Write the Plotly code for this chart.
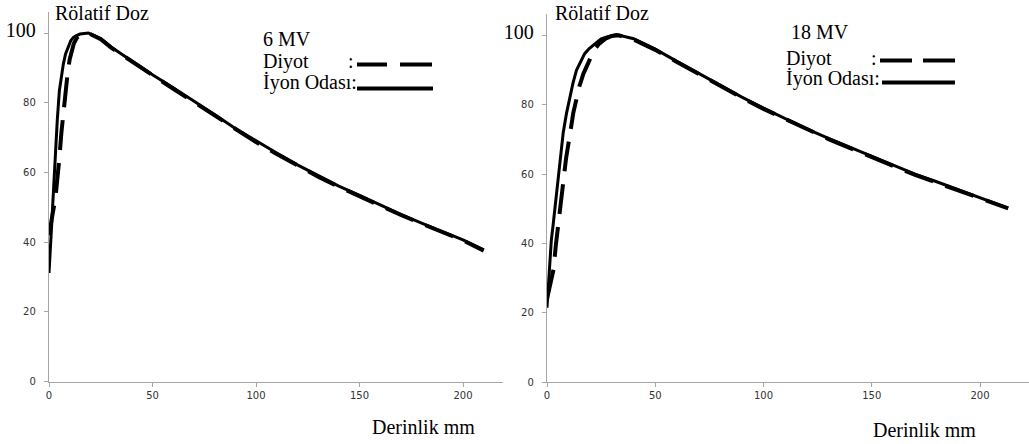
import plotly.graph_objects as go

W, H = 1029, 444

# ---------------- data ----------------
# 6 MV, ion chamber (solid)
depth_6_ion = [0, 0.5, 1.3, 2, 2.9, 4, 5, 6, 6.9, 8, 9.3, 10.5, 11.7, 13, 15, 17, 19,
               25, 30, 40, 50, 60, 70, 80, 90, 100, 110, 120, 130, 140, 150, 160, 170,
               180, 190, 200, 210]
dose_6_ion = [31.2, 38, 45, 53, 64.3, 75, 83.4, 88, 91, 94, 96.3, 97.8, 98.7, 99.2, 99.7, 99.9, 100,
              98.4, 96, 92, 88, 84.3, 80.5, 76.6, 72.6, 69, 65.6, 62.2, 59.1, 56.1, 53.4, 50.6, 48,
              45.5, 43, 40.7, 37.8]
# 6 MV, diode (dashed)
depth_6_dio = [0, 1, 2, 3, 4, 5, 6, 7, 8, 9, 10, 11, 12, 13.5, 15.8, 19,
               25, 30, 40, 50, 60, 70, 80, 90, 100, 110, 120, 130, 140, 150, 160, 170,
               180, 190, 200, 210]
dose_6_dio = [42, 46, 49, 52, 57, 64, 71.5, 78, 84, 88.5, 92.5, 95, 97, 98.7, 99.7, 100,
              98.2, 95.8, 91.8, 87.7, 84, 80.2, 76.3, 72.4, 68.7, 65.3, 62, 58.8, 55.9, 53.1, 50.4, 47.8,
              45.3, 42.8, 40.5, 37.6]

# 18 MV, ion chamber (solid)
depth_18_ion = [0, 1, 2, 2.8, 4, 5.2, 6.3, 7.5, 9, 10.5, 12, 13.6, 15.5, 17.4, 19.5, 21.3, 23, 25,
                28, 32, 40, 50, 60, 70, 80, 90, 100, 110, 120, 130, 140, 150, 160, 170,
                180, 190, 200, 213]
dose_18_ion = [21.5, 33, 41, 45.2, 52.5, 59.6, 66, 72, 77.5, 82.2, 86.2, 89.9, 92.5, 94.7, 96.2, 97.1, 98.2, 99,
               99.6, 100.2, 99, 96, 92.5, 89, 85.6, 82.2, 79, 76, 73, 70.3, 67.7, 65, 62.5, 60,
               57.8, 55.5, 53.2, 50.2]
# 18 MV, diode (dashed)
depth_18_dio = [0, 1.8, 3, 4.1, 5.7, 6.3, 7.9, 8.8, 10.9, 12.1, 14.9, 16.8, 19.9, 21.4, 24, 27,
                30, 33, 40, 50, 60, 70, 80, 90, 100, 110, 120, 130, 140, 150, 160, 170,
                180, 190, 200, 213]
dose_18_dio = [24, 28.8, 32.5, 39.6, 47.8, 52, 60.2, 64.5, 72.6, 77.5, 85.2, 88.9, 93.2, 95.6, 97.5, 99,
               99.8, 100, 98.8, 95.8, 92.3, 88.8, 85.4, 82, 78.8, 75.8, 72.8, 70.1, 67.5, 64.8, 62.3, 59.8,
               57.6, 55.3, 53, 50.1]

x_ticks = [0, 50, 100, 150, 200]
y_ticks = [0, 20, 40, 60, 80, 100]
y_ticktext = ["0", "20", "40", "60", "80",
              "<span style='font-size:20px;font-family:Liberation Serif;color:#000'>100</span>"]

y_title = "Rölatif Doz"
x_title = "Derinlik mm"
energy_labels = ["6 MV", "18 MV"]
legend_diode = "Diyot"
legend_ion = "İyon Odası:"

DASH = "30px,13px"

fig = go.Figure()
fig.add_trace(go.Scatter(x=depth_6_dio, y=dose_6_dio, mode="lines", xaxis="x", yaxis="y",
                         line=dict(color="black", width=4, dash=DASH), showlegend=False))
fig.add_trace(go.Scatter(x=depth_6_ion, y=dose_6_ion, mode="lines", xaxis="x", yaxis="y",
                         line=dict(color="black", width=3), showlegend=False))
fig.add_trace(go.Scatter(x=depth_18_dio, y=dose_18_dio, mode="lines", xaxis="x2", yaxis="y2",
                         line=dict(color="black", width=4, dash=DASH), showlegend=False))
fig.add_trace(go.Scatter(x=depth_18_ion, y=dose_18_ion, mode="lines", xaxis="x2", yaxis="y2",
                         line=dict(color="black", width=3), showlegend=False))

def px(x):
    return x / W

def py(y):
    return 1 - y / H

axis_common = dict(showline=True, linecolor="#a6a6a6", linewidth=1.3, ticks="outside",
                   ticklen=4, tickcolor="#a6a6a6", tickwidth=1.3, showgrid=False, zeroline=False,
                   automargin=False,
                   tickfont=dict(family="DejaVu Sans", size=10, color="#333333"))

# left panel: x 0 at 49px, 2.07 px/mm ; y 0 at 381.7px, 3.487 px/unit
fig.update_layout(
    xaxis=dict(domain=[px(49), px(503)], range=[0, (503 - 49) / 2.07], tickvals=x_ticks,
               anchor="y", **axis_common),
    yaxis=dict(domain=[py(381.7), py(12)], range=[0, (381.7 - 12) / 3.487], tickvals=y_ticks,
               ticktext=y_ticktext, anchor="x", ticklabelstandoff=6, **axis_common),
    xaxis2=dict(domain=[px(547), 1.0], range=[0, (1029 - 547) / 2.165], tickvals=x_ticks,
                anchor="y2", **axis_common),
    yaxis2=dict(domain=[py(382.3), py(14)], range=[0, (382.3 - 14) / 3.47], tickvals=y_ticks,
                ticktext=y_ticktext, anchor="x2", ticklabelstandoff=6, **axis_common),
)

serif = dict(family="Liberation Serif", size=20, color="black")
ann = []
def text(x, y, s, anchor="left"):
    ann.append(dict(xref="paper", yref="paper", x=px(x), y=py(y), text=s, showarrow=False,
                    xanchor=anchor, yanchor="middle", font=serif))

# axis titles
text(53, 13, y_title)
text(553, 13, y_title)
text(370, 427, x_title)
text(871, 430, x_title)
# custom legends
text(261, 39, energy_labels[0])
text(261, 61, legend_diode)
text(346, 61, ":")
text(261, 83, legend_ion)
text(789, 32, energy_labels[1])
text(784, 58, legend_diode)
text(869, 58, ":")
text(784, 79, legend_ion)

shapes = []
def seg(x0, x1, y):
    shapes.append(dict(type="line", xref="paper", yref="paper", x0=px(x0), x1=px(x1),
                       y0=py(y), y1=py(y), line=dict(color="black", width=4)))

seg(357, 387, 64.5)
seg(400, 432, 64.5)
seg(357, 433, 88.5)
seg(880, 912, 60.5)
seg(923, 955, 60.5)
seg(882, 955, 82.5)

fig.update_layout(annotations=ann, shapes=shapes, width=W, height=H, autosize=False,
                  margin=dict(l=0, r=0, t=0, b=0, pad=0), paper_bgcolor="white",
                  plot_bgcolor="white")

fig.write_html("out.html", config={"displayModeBar": False, "responsive": False},
               post_script="document.body.style.margin='0';document.body.style.overflow='hidden';")
